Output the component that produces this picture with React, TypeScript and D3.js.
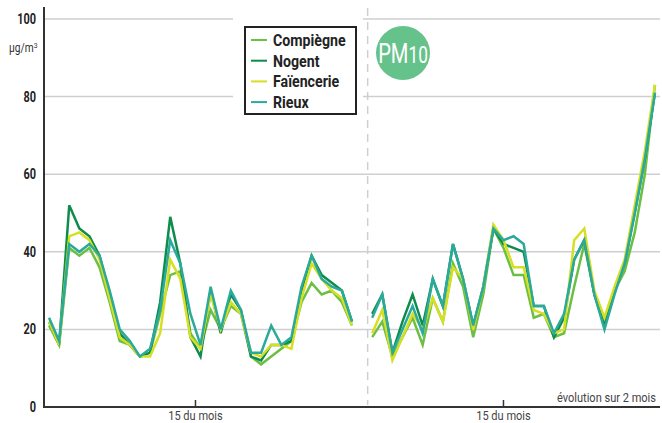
import React from "react";
import * as d3 from "d3";

// daily PM10 over two months, index 31 is the gap between months
const compiegne = [21, 16, 41, 39, 41, 36, 27, 17, 16, 13, 14, 24, 34, 35, 19, 15, 25, 20, 26, 24, 13, 11, 13, 15, 17, 27, 32, 29, 30, 27, 21,
  null, 18, 22, 13, 18, 23, 16, 28, 22, 37, 31, 18, 29, 46, 41, 34, 34, 23, 24, 18, 19, 31, 42, 29, 22, 30, 35, 45, 60, 83];
const nogent = [22, 16, 52, 46, 44, 39, 29, 19, 16, 13, 14, 27, 49, 37, 18, 13, 30, 19, 29, 25, 13, 12, 16, 16, 17, 30, 39, 34, 32, 30, 22,
  null, 24, 29, 14, 22, 29, 21, 33, 26, 42, 33, 21, 31, 46, 42, 41, 40, 26, 26, 18, 23, 38, 43, 29, 21, 30, 37, 50, 64, 81];
const faiencerie = [22, 16, 44, 45, 43, 38, 28, 18, 16, 13, 13, 19, 38, 33, 18, 15, 29, 20, 27, 24, 14, 13, 16, 16, 15, 28, 37, 33, 30, 28, 21,
  null, 19, 25, 12, 18, 24, 20, 28, 22, 36, 33, 20, 31, 47, 43, 36, 36, 25, 24, 19, 20, 43, 46, 30, 23, 31, 38, 52, 66, 83];
const rieux = [23, 17, 42, 40, 42, 39, 30, 20, 17, 13, 15, 25, 43, 37, 24, 16, 31, 20, 30, 25, 14, 14, 21, 16, 18, 31, 39, 33, 31, 30, 22,
  null, 23, 29, 14, 20, 26, 19, 33, 26, 42, 33, 21, 31, 46, 43, 44, 42, 26, 26, 19, 24, 38, 43, 29, 20, 29, 37, 50, 64, 81];

const seriesNames = ["Compiègne", "Nogent", "Faïencerie", "Rieux"];
const seriesColors = ["#6dbf43", "#0d8c4c", "#d6df22", "#2ba99b"];
const yTicks = [0, 20, 40, 60, 80, 100];
const xTickIdx = [14.5, 45];
const xTickLabel = "15 du mois";

const W = 662;
const H = 423;
const font = "Roboto, 'DejaVu Sans', sans-serif";

// condensed text: the original uses a narrow grotesque, squeeze Roboto horizontally
function Cond(props: { x: number; y: number; sx?: number; anchor?: string; size: number; bold?: boolean; fill?: string; children: React.ReactNode }) {
  const { x, y, sx = 0.8, anchor = "start", size, bold, fill = "#222", children } = props;
  return (
    <text transform={`translate(${x},${y}) scale(${sx},1)`} textAnchor={anchor} fontSize={size}
      fontWeight={bold ? "bold" : "normal"} fill={fill}>{children}</text>
  );
}

export default function App() {
  const allSeries = [compiegne, nogent, faiencerie, rieux];
  const x = d3.scaleLinear().domain([-0.5, 60.5]).range([44, 660]);
  const y = d3.scaleLinear().domain([0, 100]).range([407, 19]);

  const line = d3.line<number | null>()
    .defined(d => d !== null)
    .x((_, i) => x(i))
    .y(d => y(d as number));

  return (
    <svg width={W} height={H} style={{ position: "absolute", left: 0, top: 0, background: "#fff" }} fontFamily={font}>
      {/* grid */}
      {yTicks.filter(t => t > 0).map(t => (
        <line key={t} x1={44} x2={660} y1={y(t)} y2={y(t)} stroke="#cfcfcf" strokeWidth={1.5} />
      ))}
      {/* month divider */}
      <line x1={x(31.55)} x2={x(31.55)} y1={8} y2={405} stroke="#cfcfcf" strokeWidth={1.5} strokeDasharray="8,6" />

      {yTicks.map(t => (
        <Cond key={t} x={36} y={y(t) + 5} anchor="end" size={14} bold sx={0.78}>{t}</Cond>
      ))}
      <Cond x={9} y={52} size={12} sx={0.85} fill="#333">µg/m<tspan fontSize={8} dy={-4}>3</tspan></Cond>

      {allSeries.map((s, k) => (
        <path key={k} d={line(s) || ""} fill="none" stroke={seriesColors[k]} strokeWidth={2.5} strokeLinejoin="miter" />
      ))}

      {/* axes */}
      <line x1={44} x2={44} y1={7} y2={408} stroke="#333" strokeWidth={2} />
      <line x1={43} x2={660} y1={407} y2={407} stroke="#333" strokeWidth={2} />
      {xTickIdx.map(t => (
        <g key={t}>
          <line x1={x(t)} x2={x(t)} y1={400} y2={407} stroke="#333" strokeWidth={1.5} />
          <Cond x={x(t)} y={420} anchor="middle" size={13} sx={0.85} fill="#444">{xTickLabel}</Cond>
        </g>
      ))}
      <Cond x={656} y={402} anchor="end" size={13} sx={0.85} fill="#444">évolution sur 2 mois</Cond>

      {/* legend */}
      <rect x={233} y={14} width={130} height={106} fill="#fff" />
      <rect x={245} y={27} width={111} height={87} fill="#fff" stroke="#222" strokeWidth={2} />
      {seriesNames.map((n, k) => (
        <g key={n} transform={`translate(251, ${40 + k * 20.7})`}>
          <line x1={0} x2={16} y1={0} y2={0} stroke={seriesColors[k]} strokeWidth={2} />
          <Cond x={22} y={6} size={16.5} bold sx={0.86}>{n}</Cond>
        </g>
      ))}

      {/* PM10 badge */}
      <circle cx={403} cy={53} r={27} fill="#66c28b" />
      <Cond x={403} y={63} anchor="middle" size={28} sx={0.72} fill="#fff">PM<tspan fontSize={24}>10</tspan></Cond>
    </svg>
  );
}
